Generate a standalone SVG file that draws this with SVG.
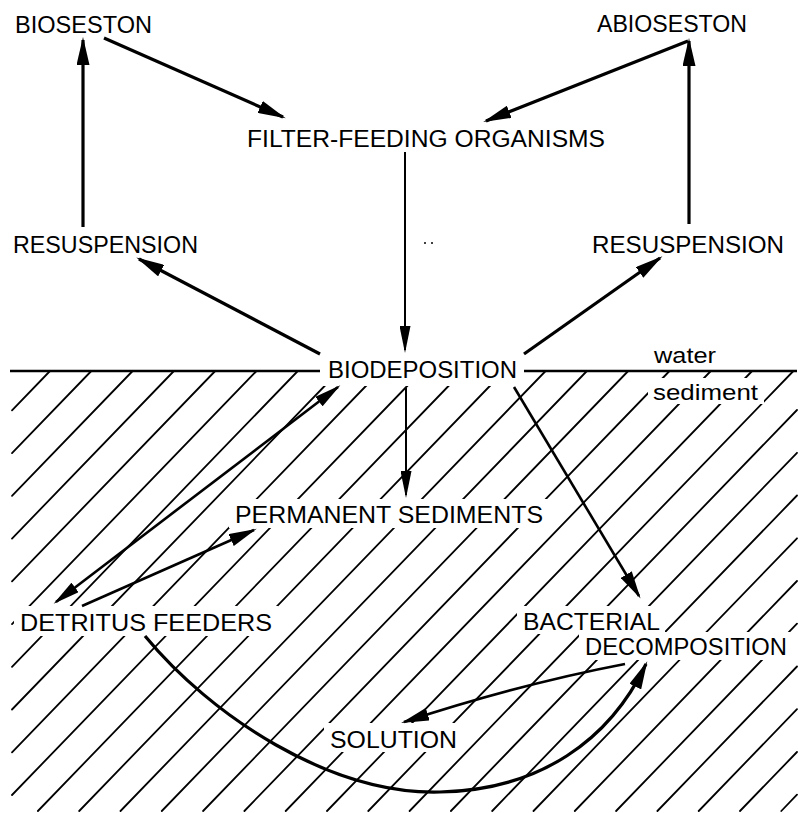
<svg xmlns="http://www.w3.org/2000/svg" width="798" height="813" viewBox="0 0 798 813">
<style>
.lbl{font-family:"Liberation Sans",Arial,sans-serif;font-size:23.5px;fill:#000}
.low{font-family:"Liberation Sans",Arial,sans-serif;font-size:22px;fill:#000}
.arr{fill:none;stroke:#000;stroke-width:3.2}
.thin{stroke-width:2}
.mid{stroke-width:2.6}
.hatch line{stroke:#000;stroke-width:1.8;stroke-linecap:round}
.surf{stroke:#000;stroke-width:2.6;fill:none}
</style>
<defs>
<marker id="ah" markerUnits="userSpaceOnUse" markerWidth="28" markerHeight="13" viewBox="0 0 28 13" refX="25" refY="6.5" orient="auto"><path d="M0,0 L28,6.5 L0,13 z" fill="#000"/></marker>
<marker id="ahn" markerUnits="userSpaceOnUse" markerWidth="27" markerHeight="11" viewBox="0 0 27 11" refX="24" refY="5.5" orient="auto"><path d="M0,0 L27,5.5 L0,11 z" fill="#000"/></marker>
<marker id="ahd" markerUnits="userSpaceOnUse" markerWidth="27" markerHeight="12" viewBox="0 0 27 12" refX="24" refY="6" orient="auto-start-reverse"><path d="M0,0 L27,6 L0,12 z" fill="#000"/></marker>
<mask id="knock" maskUnits="userSpaceOnUse" x="0" y="0" width="798" height="813">
<rect x="0" y="0" width="798" height="813" fill="#fff"/>
<rect x="322" y="355" width="200" height="31" fill="#000"/>
<rect x="648" y="378" width="116" height="26" fill="#000"/>
<rect x="229" y="499" width="320" height="29" fill="#000"/>
<rect x="14" y="606" width="264" height="30" fill="#000"/>
<rect x="517" y="606" width="148" height="28" fill="#000"/>
<rect x="579" y="632" width="214" height="28" fill="#000"/>
<rect x="324" y="723" width="139" height="29" fill="#000"/>
</mask>
</defs>
<rect width="798" height="813" fill="#fff"/>

<g id="sediment-hatch" class="hatch" mask="url(#knock)">
<line x1="50" y1="371" x2="12" y2="410.3"/>
<line x1="91.3" y1="371" x2="12" y2="453.1"/>
<line x1="132.6" y1="371" x2="12" y2="495.8"/>
<line x1="173.9" y1="371" x2="12" y2="538.6"/>
<line x1="215.2" y1="371" x2="12" y2="581.3"/>
<line x1="256.5" y1="371" x2="12" y2="624.1"/>
<line x1="297.8" y1="371" x2="12" y2="666.8"/>
<line x1="339.1" y1="371" x2="12" y2="709.5"/>
<line x1="380.4" y1="371" x2="12" y2="752.3"/>
<line x1="421.7" y1="371" x2="12" y2="795"/>
<line x1="463" y1="371" x2="37.9" y2="811"/>
<line x1="504.3" y1="371" x2="79.2" y2="811"/>
<line x1="545.6" y1="371" x2="120.5" y2="811"/>
<line x1="586.9" y1="371" x2="161.8" y2="811"/>
<line x1="628.2" y1="371" x2="203.1" y2="811"/>
<line x1="669.5" y1="371" x2="244.4" y2="811"/>
<line x1="710.8" y1="371" x2="285.7" y2="811"/>
<line x1="752.1" y1="371" x2="327" y2="811"/>
<line x1="793.4" y1="371" x2="368.3" y2="811"/>
<line x1="797" y1="410" x2="409.6" y2="811"/>
<line x1="797" y1="452.8" x2="450.9" y2="811"/>
<line x1="797" y1="495.5" x2="492.2" y2="811"/>
<line x1="797" y1="538.3" x2="533.5" y2="811"/>
<line x1="797" y1="581" x2="574.8" y2="811"/>
<line x1="797" y1="623.7" x2="616.1" y2="811"/>
<line x1="797" y1="666.5" x2="657.4" y2="811"/>
<line x1="797" y1="709.2" x2="698.7" y2="811"/>
<line x1="797" y1="752" x2="740" y2="811"/>
<line x1="797" y1="794.7" x2="781.3" y2="811"/>
</g>

<g id="surface">
<path class="surf" d="M10,371 L320,371 M524,371 L797,371"/>
</g>

<g id="connectors">
<path class="arr" d="M104,38 L283,117" marker-end="url(#ah)"/>
<path class="arr" d="M688,41 L486,121" marker-end="url(#ah)"/>
<path class="arr" d="M83,227 L83,40" marker-end="url(#ah)"/>
<path class="arr" d="M689,224 L689,41" marker-end="url(#ah)"/>
<path class="arr thin" d="M405,152 L405,350" marker-end="url(#ahn)"/>
<path class="arr" d="M320,354 L139,259" marker-end="url(#ah)"/>
<path class="arr" d="M524,354 L660,258" marker-end="url(#ah)"/>
<path class="arr thin" d="M406,388 L406,495" marker-end="url(#ahn)"/>
<path class="arr mid" d="M514,387 L639,596" marker-end="url(#ah)"/>
<path class="arr mid" d="M56,602 L338,387" marker-start="url(#ahd)" marker-end="url(#ahd)"/>
<path class="arr mid" d="M82,606 L254,530" marker-end="url(#ah)"/>
<path class="arr" d="M145,636 C210,715 330,795 440,792 C540,790 610,740 646,664" marker-end="url(#ah)"/>
<path class="arr mid" d="M625,664 Q520,684 404,722" marker-end="url(#ah)"/>
</g>

<g id="n-bioseston"><text class="lbl" x="15" y="33" textLength="137" lengthAdjust="spacingAndGlyphs">BIOSESTON</text></g>
<g id="n-abioseston"><text class="lbl" x="597" y="32" textLength="150" lengthAdjust="spacingAndGlyphs">ABIOSESTON</text></g>
<g id="n-filter"><text class="lbl" x="247" y="147" textLength="358" lengthAdjust="spacingAndGlyphs">FILTER-FEEDING ORGANISMS</text></g>
<g id="n-resusp-left"><text class="lbl" x="13" y="253" textLength="185" lengthAdjust="spacingAndGlyphs">RESUSPENSION</text></g>
<g id="n-resusp-right"><text class="lbl" x="592" y="253" textLength="192" lengthAdjust="spacingAndGlyphs">RESUSPENSION</text></g>
<g id="n-biodeposition"><text class="lbl" x="328" y="378" textLength="189" lengthAdjust="spacingAndGlyphs">BIODEPOSITION</text></g>
<g id="n-water"><text class="low" x="654" y="363" textLength="62" lengthAdjust="spacingAndGlyphs">water</text></g>
<g id="n-sediment"><text class="low" x="653" y="400" textLength="105" lengthAdjust="spacingAndGlyphs">sediment</text></g>
<g id="n-permanent"><text class="lbl" x="235" y="523" textLength="308" lengthAdjust="spacingAndGlyphs">PERMANENT SEDIMENTS</text></g>
<g id="n-detritus"><text class="lbl" x="20" y="631" textLength="252" lengthAdjust="spacingAndGlyphs">DETRITUS FEEDERS</text></g>
<g id="n-bacterial"><text class="lbl" x="523" y="630" textLength="137" lengthAdjust="spacingAndGlyphs">BACTERIAL</text><text class="lbl" x="585" y="655" textLength="202" lengthAdjust="spacingAndGlyphs">DECOMPOSITION</text></g>
<g id="n-solution"><text class="lbl" x="330" y="748" textLength="127" lengthAdjust="spacingAndGlyphs">SOLUTION</text></g>
<g id="marks"><circle cx="425" cy="243" r="1" fill="#000"/><circle cx="432" cy="243" r="1" fill="#000"/></g>
</svg>
